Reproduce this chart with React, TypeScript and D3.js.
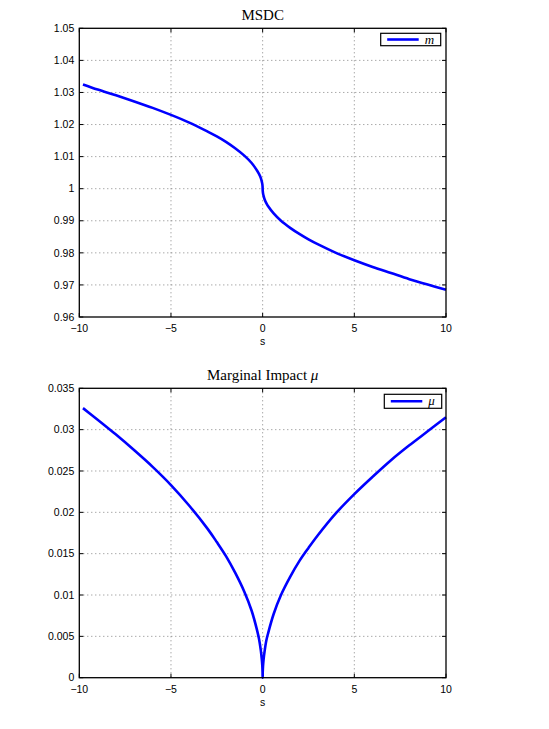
import * as d3 from 'd3';

// s values sampled along the curves (dense near the cusp at 0)
const sValues = [
  -9.8, -9, -8, -7, -6, -5, -4, -3, -2.5, -2, -1.5, -1, -0.6, -0.3, -0.2, -0.1, -0.05, -0.02, -0.005,
  0,
  0.005, 0.02, 0.05, 0.1, 0.2, 0.3, 0.6, 1, 1.5, 2, 2.5, 3, 4, 5, 6, 7, 8, 9, 10,
];

// MSDC m(s)
const mValues = [
  1.0325, 1.0309, 1.0291, 1.0272, 1.0252, 1.0230, 1.0206, 1.0178, 1.0163, 1.0146, 1.0126, 1.0103, 1.0080, 1.0056, 1.0046, 1.0033, 1.0023, 1.0015, 1.0007,
  1.0000,
  0.9993, 0.9986, 0.9978, 0.9968, 0.9955, 0.9945, 0.9923, 0.9900, 0.9878, 0.9859, 0.9842, 0.9827, 0.9800, 0.9777, 0.9756, 0.9737, 0.9718, 0.9701, 0.9685,
];

// Marginal impact mu(s)
const muValues = [
  0.0326, 0.0312, 0.0294, 0.0275, 0.0255, 0.0233, 0.0208, 0.0180, 0.0164, 0.0147, 0.0127, 0.0104, 0.0081, 0.0057, 0.0047, 0.0033, 0.0023, 0.0015, 0.0007,
  0,
  0.0007, 0.0014, 0.0022, 0.0031, 0.0045, 0.0054, 0.0077, 0.0100, 0.0122, 0.0141, 0.0157, 0.0172, 0.0199, 0.0222, 0.0243, 0.0263, 0.0281, 0.0298, 0.0315,
];

const xTicks = [-10, -5, 0, 5, 10];
const mTicks = [0.96, 0.97, 0.98, 0.99, 1, 1.01, 1.02, 1.03, 1.04, 1.05];
const mTickLabels = ['0.96', '0.97', '0.98', '0.99', '1', '1.01', '1.02', '1.03', '1.04', '1.05'];
const muTicks = [0, 0.005, 0.01, 0.015, 0.02, 0.025, 0.03, 0.035];
const muTickLabels = ['0', '0.005', '0.01', '0.015', '0.02', '0.025', '0.03', '0.035'];

const sans = '"Liberation Sans", Arial, sans-serif';
const serif = '"Liberation Serif", "DejaVu Serif", serif';

interface PanelProps {
  top: number;
  bottom: number;
  yDomain: [number, number];
  yTicks: number[];
  yLabels: string[];
  values: number[];
  title: React.ReactNode;
  legendLabel: string;
  legendBox: { x: number; y: number; w: number; h: number };
}

const left = 79.3;
const right = 446;

const Panel = ({ top, bottom, yDomain, yTicks, yLabels, values, title, legendLabel, legendBox }: PanelProps) => {
  const x = d3.scaleLinear().domain([-10, 10]).range([left, right]);
  const y = d3.scaleLinear().domain(yDomain).range([bottom, top]);
  const line = d3
    .line<number>()
    .x((_, i) => x(sValues[i]))
    .y((d) => y(d))
    .curve(d3.curveCatmullRom.alpha(0.5));
  const tick = 4;
  const ly = legendBox.y + legendBox.h / 2;

  return (
    <g>
      {/* grid */}
      {xTicks.slice(1, -1).map((t) => (
        <line key={'gx' + t} x1={x(t)} x2={x(t)} y1={top} y2={bottom} stroke="#666" strokeWidth={0.8} strokeDasharray="1,3" />
      ))}
      {yTicks.slice(1, -1).map((t) => (
        <line key={'gy' + t} x1={left} x2={right} y1={y(t)} y2={y(t)} stroke="#666" strokeWidth={0.8} strokeDasharray="1,3" />
      ))}
      {/* ticks, inward on all four sides */}
      {xTicks.map((t) => (
        <g key={'tx' + t}>
          <line x1={x(t)} x2={x(t)} y1={bottom} y2={bottom - tick} stroke="#000" />
          <line x1={x(t)} x2={x(t)} y1={top} y2={top + tick} stroke="#000" />
          <text x={x(t)} y={bottom + 15} textAnchor="middle" fontFamily={sans} fontSize={10.5}>
            {t < 0 ? '\u2212' + Math.abs(t) : t}
          </text>
        </g>
      ))}
      {yTicks.map((t, i) => (
        <g key={'ty' + t}>
          <line x1={left} x2={left + tick} y1={y(t)} y2={y(t)} stroke="#000" />
          <line x1={right} x2={right - tick} y1={y(t)} y2={y(t)} stroke="#000" />
          <text x={left - 5} y={y(t) + 3.7} textAnchor="end" fontFamily={sans} fontSize={10.5}>
            {yLabels[i]}
          </text>
        </g>
      ))}
      <text x={x(0)} y={bottom + 28} textAnchor="middle" fontFamily={sans} fontSize={10.5}>
        s
      </text>
      {/* curve */}
      <path d={line(values) || ''} fill="none" stroke="#0000ff" strokeWidth={2.6} strokeLinejoin="round" />
      {/* frame */}
      <rect x={left} y={top} width={right - left} height={bottom - top} fill="none" stroke="#000" strokeWidth={1.3} />
      {/* title */}
      <text x={x(0)} y={top - 8} textAnchor="middle" fontFamily={serif} fontSize={15}>
        {title}
      </text>
      {/* legend */}
      <rect x={legendBox.x} y={legendBox.y} width={legendBox.w} height={legendBox.h} fill="#fff" stroke="#000" strokeWidth={1.2} />
      <line x1={legendBox.x + 6.5} x2={legendBox.x + 38} y1={ly} y2={ly} stroke="#0000ff" strokeWidth={2.6} />
      <text x={legendBox.x + 44} y={ly + 4} fontFamily={serif} fontStyle="italic" fontSize={13}>
        {legendLabel}
      </text>
    </g>
  );
};

const App = () => {
  return (
    <svg
      width={549}
      height={729}
      style={{ position: 'absolute', left: 0, top: 0, background: '#fff' }}
    >
      <rect width={549} height={729} fill="#fff" />
      <Panel
        top={28.3}
        bottom={317}
        yDomain={[0.96, 1.05]}
        yTicks={mTicks}
        yLabels={mTickLabels}
        values={mValues}
        title="MSDC"
        legendLabel="m"
        legendBox={{ x: 380.7, y: 33.3, w: 60, h: 12.4 }}
      />
      <Panel
        top={388.3}
        bottom={677.7}
        yDomain={[0, 0.035]}
        yTicks={muTicks}
        yLabels={muTickLabels}
        values={muValues}
        title={
          <>
            Marginal Impact <tspan fontStyle="italic">μ</tspan>
          </>
        }
        legendLabel="μ"
        legendBox={{ x: 384.3, y: 394.3, w: 57.4, h: 14 }}
      />
    </svg>
  );
};

export default App;
